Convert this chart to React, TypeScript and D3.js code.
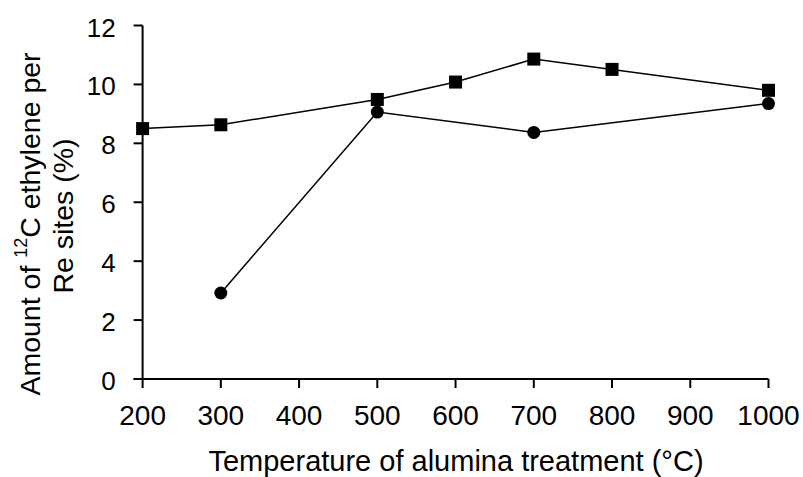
import React from 'react';
import * as d3 from 'd3';

// alumina treatment temperature (°C)
const squareTemps = [200, 300, 500, 600, 700, 800, 1000];
const squareVals = [8.5, 8.63, 9.49, 10.08, 10.86, 10.51, 9.8];
const circleTemps = [300, 500, 700, 1000];
const circleVals = [2.92, 9.06, 8.37, 9.35];
const xTicks = [200, 300, 400, 500, 600, 700, 800, 900, 1000];
const yTicks = [0, 2, 4, 6, 8, 10, 12];

const W = 803;
const H = 477;
const FONT = '"Liberation Sans", Arial, sans-serif';

export default function App() {
  const x = d3.scaleLinear().domain([200, 1000]).range([142.6, 768.5]);
  const y = d3.scaleLinear().domain([0, 12]).range([379, 25.5]);

  const line = d3.line<[number, number]>()
    .x(d => x(d[0]))
    .y(d => y(d[1]));

  const sq = squareTemps.map((t, i) => [t, squareVals[i]] as [number, number]);
  const ci = circleTemps.map((t, i) => [t, circleVals[i]] as [number, number]);

  const ms = 13;

  return (
    <svg width={W} height={H} style={{ position: 'absolute', left: 0, top: 0, background: '#fff' }}
      fontFamily={FONT}>
      <path d={line(sq) || ''} fill="none" stroke="#000" strokeWidth={1.5} />
      <path d={line(ci) || ''} fill="none" stroke="#000" strokeWidth={1.5} />
      {sq.map((d, i) => (
        <rect key={'s' + i} x={x(d[0]) - ms / 2} y={y(d[1]) - ms / 2} width={ms} height={ms} fill="#000" />
      ))}
      {ci.map((d, i) => (
        <circle key={'c' + i} cx={x(d[0])} cy={y(d[1])} r={ms / 2} fill="#000" />
      ))}

      {/* y axis */}
      <line x1={x(200)} x2={x(200)} y1={y(12)} y2={y(0)} stroke="#000" strokeWidth={2} />
      {yTicks.map(t => (
        <g key={'yt' + t}>
          <line x1={x(200) - 9} x2={x(200)} y1={y(t)} y2={y(t)} stroke="#000" strokeWidth={2} />
          <text x={x(200) - 27} y={y(t) + 11} fontSize={26} textAnchor="end">{t}</text>
        </g>
      ))}

      {/* x axis */}
      <line x1={x(200) - 9} x2={x(1000)} y1={y(0)} y2={y(0)} stroke="#000" strokeWidth={2} />
      {xTicks.map(t => (
        <g key={'xt' + t}>
          <line x1={x(t)} x2={x(t)} y1={y(0)} y2={y(0) + 9} stroke="#000" strokeWidth={2} />
          <text x={x(t)} y={y(0) + 46} fontSize={28} textAnchor="middle">{t}</text>
        </g>
      ))}

      <text x={456} y={471} fontSize={29} textAnchor="middle">
        Temperature of alumina treatment (°C)
      </text>

      <g transform="translate(30,224) rotate(-90)">
        <text x={0} y={0} fontSize={28.5} textAnchor="middle" dominantBaseline="central">
          Amount of <tspan fontSize={18} dy={-9}>12</tspan><tspan dy={9}>C ethylene per</tspan>
        </text>
      </g>
      <g transform="translate(63,216) rotate(-90)">
        <text x={0} y={0} fontSize={28.5} textAnchor="middle" dominantBaseline="central">Re sites (%)</text>
      </g>
    </svg>
  );
}
